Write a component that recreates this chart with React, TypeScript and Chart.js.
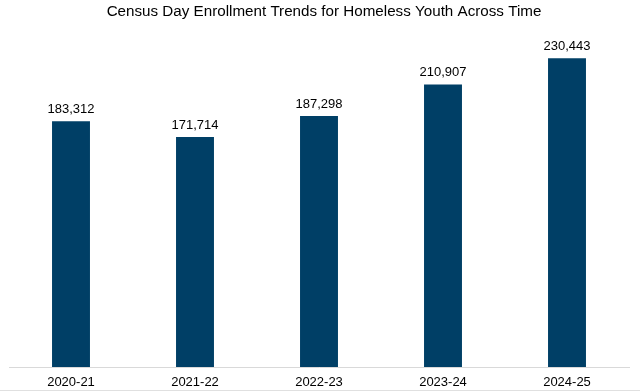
import React, { useEffect, useRef } from "react";
import { Chart, registerables } from "chart.js";

Chart.register(...registerables);

const categories = ["2020-21", "2021-22", "2022-23", "2023-24", "2024-25"];
const enrollment = [183312, 171714, 187298, 210907, 230443];
const titleText = "Census Day Enrollment Trends for Homeless Youth Across Time";

const FONT = "'Liberation Sans', Arial, sans-serif";

const valueLabels = {
  id: "valueLabels",
  afterDatasetsDraw(chart: any) {
    const ctx = chart.ctx;
    const meta = chart.getDatasetMeta(0);
    ctx.save();
    ctx.font = `13px ${FONT}`;
    ctx.fillStyle = "#000000";
    ctx.textAlign = "center";
    ctx.textBaseline = "alphabetic";
    meta.data.forEach((bar: any, i: number) => {
      const v = chart.data.datasets[0].data[i] as number;
      ctx.fillText(v.toLocaleString("en-US"), bar.x, bar.y - 8);
    });
    ctx.restore();
  },
};

const decor = {
  id: "decor",
  beforeDraw(chart: any) {
    const ctx = chart.ctx;
    ctx.save();
    ctx.fillStyle = "#ffffff";
    ctx.fillRect(0, 0, chart.width, chart.height);
    ctx.restore();
  },
  afterDraw(chart: any) {
    const ctx = chart.ctx;
    ctx.save();
    // title
    ctx.font = `15.2px ${FONT}`;
    ctx.fillStyle = "#000000";
    ctx.textAlign = "center";
    ctx.textBaseline = "alphabetic";
    ctx.fillText(titleText, 324, 15.5);
    // bottom frame line
    ctx.strokeStyle = "#e0e0e0";
    ctx.lineWidth = 1;
    ctx.beginPath();
    ctx.moveTo(0, chart.height - 1.5);
    ctx.lineTo(chart.width, chart.height - 1.5);
    ctx.stroke();
    ctx.restore();
  },
};

export default function App() {
  const ref = useRef<HTMLCanvasElement>(null);
  useEffect(() => {
    document.body.style.margin = "0";
    const chart = new Chart(ref.current!, {
      type: "bar",
      data: {
        labels: categories,
        datasets: [
          {
            data: enrollment,
            backgroundColor: "#003f66",
            borderWidth: 0,
            barPercentage: 1,
            categoryPercentage: 0.306,
          },
        ],
      },
      options: {
        responsive: false,
        animation: false,
        layout: { padding: { left: 9, right: 11, top: 32, bottom: 0 } },
        plugins: {
          legend: { display: false },
          tooltip: { enabled: false },
          title: { display: false },
        },
        scales: {
          x: {
            grid: { display: false, drawTicks: false },
            border: { display: true, color: "#d9d9d9", width: 1 },
            ticks: {
              color: "#000000",
              font: { family: FONT, size: 13 },
              padding: 8,
            },
            afterFit(scale: any) {
              scale.height = 25;
            },
          },
          y: {
            display: false,
            min: 0,
            max: 250000,
          },
        },
      },
      plugins: [decor, valueLabels],
    });
    return () => chart.destroy();
  }, []);
  return <canvas ref={ref} width={640} height={392} />;
}
